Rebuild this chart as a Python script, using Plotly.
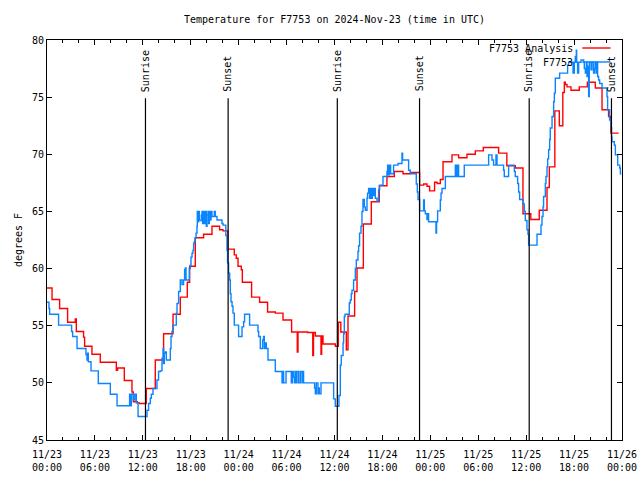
import pandas as pd
import plotly.graph_objects as go

# Hours since 2024-11-23 00:00 UTC
base = pd.Timestamp("2024-11-23 00:00")

analysis_hours = [0.00, 0.63, 1.58, 2.58, 3.54, 3.67, 4.58, 4.71, 5.63, 6.67, 8.68, 8.84, 9.68, 10.64, 10.81,
                  11.31, 11.56, 12.43, 13.56, 14.60, 15.78, 16.69, 17.57, 17.86, 18.57, 19.61, 20.66, 21.61,
                  22.04, 22.64, 23.45, 23.70, 23.92, 24.33, 24.46, 25.62, 26.62, 27.62, 28.59, 29.55, 30.63,
                  31.34, 31.43, 32.63, 33.28, 33.37, 33.60, 34.31, 34.39, 34.56, 36.10, 36.48, 36.79, 37.48,
                  37.69, 38.52, 38.82, 39.61, 40.61, 41.61, 42.57, 43.49, 44.58, 45.49, 46.66, 47.16, 47.58,
                  47.91, 48.53, 48.84, 49.25, 49.59, 50.71, 51.54, 52.59, 53.63, 54.63, 56.55, 57.58, 58.64,
                  59.60, 60.58, 61.64, 62.61, 62.90, 63.59, 64.15, 64.59, 64.78, 64.90, 65.11, 65.61, 66.65,
                  67.66, 68.66, 69.50, 70.32, 70.60, 71.58]
analysis_temp = [58.3, 57.3, 56.5, 55.3, 55.6, 54.5, 54.0, 53.2, 52.5, 51.8, 51.1, 51.3, 50.2, 49.2, 48.35,
                 48.25, 48.2, 49.5, 52.0, 54.3, 56.0, 57.5, 58.8, 60.2, 62.7, 63.0, 63.7, 63.4,
                 63.3, 61.7, 61.2, 60.9, 60.2, 59.9, 58.8, 57.5, 57.05, 56.2, 56.1, 55.5, 54.45,
                 52.7, 54.45, 54.4, 52.4, 54.4, 54.1, 52.5, 54.1, 53.4, 53.2, 55.3, 54.45, 52.9,
                 55.85, 58.0, 60.05, 63.9, 65.85, 67.25, 68.05, 68.5, 68.3, 68.4, 67.3, 67.4, 67.2,
                 66.8, 67.55, 67.45, 67.8, 69.35, 69.95, 69.7, 70.0, 70.3, 70.6, 70.1, 69.0, 68.8,
                 64.8, 64.3, 65.1, 67.1, 68.9, 73.8, 72.5, 75.4, 76.3, 76.1, 75.9, 75.6, 75.9,
                 76.3, 75.8, 73.9, 73.3, 71.85, 71.85]

obs_hours = [0.00, 0.25, 0.33, 1.45, 3.08, 3.21, 3.76, 4.88, 5.01, 5.08, 5.17, 5.51, 6.42, 7.93, 8.77,
             10.34, 10.47, 10.56, 10.81, 10.99, 11.18, 11.40, 12.52, 12.72, 12.94, 13.06, 13.27, 13.77,
             13.97, 14.19, 14.40, 14.53, 14.60, 14.69, 14.81, 14.94, 15.44, 15.53, 15.65, 15.78, 16.19,
             16.28, 16.48, 16.69, 16.90, 17.10, 17.23, 17.32, 17.41, 17.82, 17.94, 18.03, 18.16, 18.28,
             18.36, 18.44, 18.53, 18.66, 18.78, 18.82, 18.86, 18.98, 19.07, 19.32, 19.41, 19.48, 19.61,
             19.70, 19.82, 19.95, 20.04, 20.16, 20.24, 20.32, 20.45, 20.54, 20.66, 20.95, 21.07, 21.29,
             21.91, 22.04, 22.39, 22.54, 22.61, 22.74, 22.87, 22.95, 23.04, 23.17, 23.29, 23.45, 23.99,
             24.42, 24.62, 24.74, 25.37, 26.42, 26.50, 26.71, 27.00, 27.12, 27.21, 27.33, 27.46, 27.67,
             28.59, 29.43, 29.50, 29.63, 29.93, 30.59, 30.72, 30.88, 30.97, 31.09, 31.22, 31.30, 31.51,
             31.72, 31.93, 32.06, 32.13, 33.51, 33.60, 33.72, 33.93, 34.01, 34.10, 34.31, 35.89, 36.10,
             36.56, 36.73, 36.85, 37.07, 37.14, 37.23, 37.32, 37.85, 37.98, 38.10, 38.19, 38.39, 38.61,
             38.73, 38.94, 39.02, 39.14, 39.32, 39.44, 39.57, 39.73, 39.86, 40.07, 40.14, 40.27, 40.39,
             40.48, 40.61, 40.73, 40.86, 40.98, 41.11, 41.32, 41.52, 41.65, 42.07, 42.57, 42.65, 42.74,
             42.86, 43.03, 43.40, 43.95, 44.45, 44.53, 45.28, 45.49, 46.24, 46.37, 46.46, 46.66, 47.16,
             47.25, 47.37, 47.58, 47.68, 47.78, 48.71, 48.78, 48.91, 49.25, 49.34, 49.46, 49.88, 51.13,
             51.29, 51.42, 51.54, 52.25, 55.30, 55.72, 55.92, 56.22, 56.35, 57.17, 57.26, 57.80, 58.52,
             58.64, 58.93, 59.05, 59.18, 59.60, 59.77, 59.89, 60.10, 60.23, 60.31, 61.36, 61.86, 61.98,
             62.11, 62.18, 62.40, 62.48, 62.61, 62.69, 62.81, 62.94, 63.02, 63.24, 63.44, 63.53, 63.65,
             64.19, 65.19, 65.32, 65.87, 66.03, 66.15, 66.28, 66.32, 66.44, 66.57, 66.87, 67.20, 67.28,
             67.41, 67.53, 67.62, 67.69, 67.82, 67.90, 68.12, 68.24, 68.44, 68.57, 68.66, 68.78, 68.87,
             68.95, 69.07, 69.20, 69.50, 70.12, 70.20, 70.45, 70.62, 70.70, 70.75, 71.04, 71.17, 71.46,
             71.71, 71.80, 71.92]
obs_temp = [57.05, 56.5, 56.0, 55.05, 54.5, 54.05, 53.0, 52.45, 52.0, 52.6, 51.85, 51.05, 49.95, 49.0, 48.0,
            49.0, 48.0, 49.0, 48.5, 49.0, 48.25, 47.05, 47.6, 48.2, 48.65, 49.0, 49.5, 50.25,
            51.0, 51.05, 52.15, 53.0, 51.7, 52.6, 52.7, 52.0, 53.0, 54.05, 54.5, 55.05, 56.1,
            56.95, 58.0, 59.0, 58.6, 59.0, 59.9, 60.05, 59.0, 60.0, 60.3, 61.0, 61.35, 61.6,
            62.2, 62.35, 62.65, 63.1, 63.7, 65.0, 64.1, 65.0, 64.2, 64.7, 65.0, 63.95, 65.0,
            63.95, 65.0, 63.7, 64.7, 65.0, 63.95, 65.0, 64.25, 65.0, 64.55, 65.0, 64.55, 64.25,
            63.95, 63.8, 62.9, 61.6, 60.5, 59.6, 59.0, 57.8, 57.1, 56.7, 56.1, 55.05, 54.05,
            54.9, 55.35, 56.0, 55.05, 54.5, 54.05, 53.0, 53.75, 54.05, 53.0, 53.5, 53.0, 52.0,
            51.0, 50.0, 51.0, 50.0, 51.0, 50.0, 51.0, 50.5, 50.0, 51.0, 50.0, 51.0, 50.0,
            51.0, 50.0, 51.0, 50.0, 49.55, 49.05, 50.0, 49.05, 49.55, 49.05, 50.0, 48.6, 47.95,
            48.9, 51.55, 52.4, 53.5, 54.3, 55.8, 56.0, 57.0, 57.25, 57.8, 58.1, 59.0, 60.0,
            60.75, 61.5, 62.0, 63.1, 63.7, 65.0, 66.05, 65.4, 65.1, 66.15, 66.6, 67.0, 66.15,
            67.0, 66.15, 67.0, 66.4, 67.0, 66.15, 65.9, 66.9, 67.3, 68.05, 68.5, 69.05, 68.2,
            69.05, 68.3, 69.05, 69.2, 70.1, 69.5, 68.6, 68.3, 67.4, 66.7, 66.05, 65.05, 66.0,
            65.05, 64.8, 64.3, 64.8, 64.1, 63.1, 64.1, 65.05, 66.0, 66.6, 67.0, 68.05, 69.05,
            68.05, 69.05, 68.05, 69.05, 69.95, 69.5, 69.05, 69.95, 69.05, 68.6, 68.05, 69.05, 68.5,
            68.05, 67.45, 66.7, 66.05, 65.65, 65.0, 64.2, 63.4, 63.0, 62.05, 63.0, 63.8, 64.55,
            65.4, 66.3, 67.45, 68.05, 68.9, 69.6, 70.4, 71.3, 72.3, 73.3, 74.6, 75.35, 76.65,
            77.1, 77.8, 78.05, 77.1, 78.05, 78.55, 79.1, 78.05, 77.1, 78.05, 78.25, 78.05, 77.5,
            77.1, 78.05, 76.8, 77.7, 75.05, 78.05, 77.4, 78.05, 77.1, 77.5, 78.05, 77.1, 78.05,
            76.8, 76.5, 76.2, 75.8, 75.05, 73.9, 73.0, 72.3, 71.5, 71.1, 70.8, 69.95, 69.05,
            68.8, 68.3, 68.3]

sun_hours = [12.33, 22.68, 36.35, 46.65, 60.38, 70.68]
sun_labels = ["Sunrise", "Sunset", "Sunrise", "Sunset", "Sunrise", "Sunset"]

series_names = ["F7753 Analysis", "F7753"]
series_colors = ["#ff0000", "#0a84ff"]
title_text = "Temperature for F7753 on 2024-Nov-23 (time in UTC)"
y_title = "degrees F"


def to_time(hours):
    return [base + pd.Timedelta(hours=h) for h in hours]


FONT = "DejaVu Sans Mono"
W, H = 640, 480

fig = go.Figure()
fig.add_trace(go.Scatter(x=to_time(analysis_hours), y=analysis_temp, mode="lines",
                         line=dict(color=series_colors[0], width=1.4, shape="hv"),
                         name=series_names[0], showlegend=False))
fig.add_trace(go.Scatter(x=to_time(obs_hours), y=obs_temp, mode="lines",
                         line=dict(color=series_colors[1], width=1.4, shape="hv"),
                         name=series_names[1], showlegend=False))

shapes = []
annotations = []
for h, lab in zip(sun_hours, sun_labels):
    t = base + pd.Timedelta(hours=h)
    shapes.append(dict(type="line", xref="x", yref="y", x0=t, x1=t, y0=45, y1=74.9,
                       line=dict(color="black", width=1.2)))
    annotations.append(dict(x=t, y=75.3, xref="x", yref="y", text=lab, textangle=-90,
                            showarrow=False, xanchor="center", yanchor="bottom",
                            font=dict(family=FONT, size=10, color="black")))

# key (text right-aligned, sample line to its right)
key_y = [0.98, 0.945]
for name, color, ky in zip(series_names, series_colors, key_y):
    annotations.append(dict(x=0.919, y=ky, xref="paper", yref="paper", text=name,
                            showarrow=False, xanchor="right", yanchor="middle",
                            font=dict(family=FONT, size=10, color="black")))
    shapes.append(dict(type="line", xref="paper", yref="paper", x0=0.931, x1=0.98, y0=ky, y1=ky,
                       line=dict(color=color, width=1.4)))

fig.update_layout(
    width=W, height=H,
    margin=dict(l=47, r=18, t=40, b=40, autoexpand=False),
    plot_bgcolor="white", paper_bgcolor="white",
    font=dict(family=FONT, size=10, color="black"),
    title=dict(text=title_text, x=0.5, xref="paper", xanchor="center",
               y=1 - 19 / H, yref="container", yanchor="middle", automargin=False,
               font=dict(family=FONT, size=10, color="black")),
    shapes=shapes, annotations=annotations,
    xaxis=dict(type="date", range=[base, base + pd.Timedelta(hours=72)], automargin=False,
               showgrid=False, zeroline=False, showline=True, linecolor="black", linewidth=1,
               mirror="allticks", ticks="inside", ticklen=5, tickcolor="black",
               tick0=base, dtick=6 * 3600 * 1000, tickformat="%m/%d<br>%H:%M",
               ticklabelstandoff=5, ticklabeloverflow="allow",
               minor=dict(dtick=2 * 3600 * 1000, ticks="inside", ticklen=3, tickcolor="black", showgrid=False),
               tickfont=dict(family=FONT, size=10, color="black")),
    yaxis=dict(range=[45, 80], dtick=5, showgrid=False, zeroline=False, showline=True, automargin=False,
               linecolor="black", linewidth=1, mirror="allticks", ticks="inside", ticklen=5,
               tickcolor="black", tickfont=dict(family=FONT, size=10, color="black"),
               title=dict(text=y_title, standoff=7, font=dict(family=FONT, size=10, color="black"))),
)

# remove the page's default body margin so the 640x480 figure fills the window exactly
fig.write_html("out.html", config={"displayModeBar": False},
               post_script="document.body.style.margin='0';document.body.style.overflow='hidden';")
